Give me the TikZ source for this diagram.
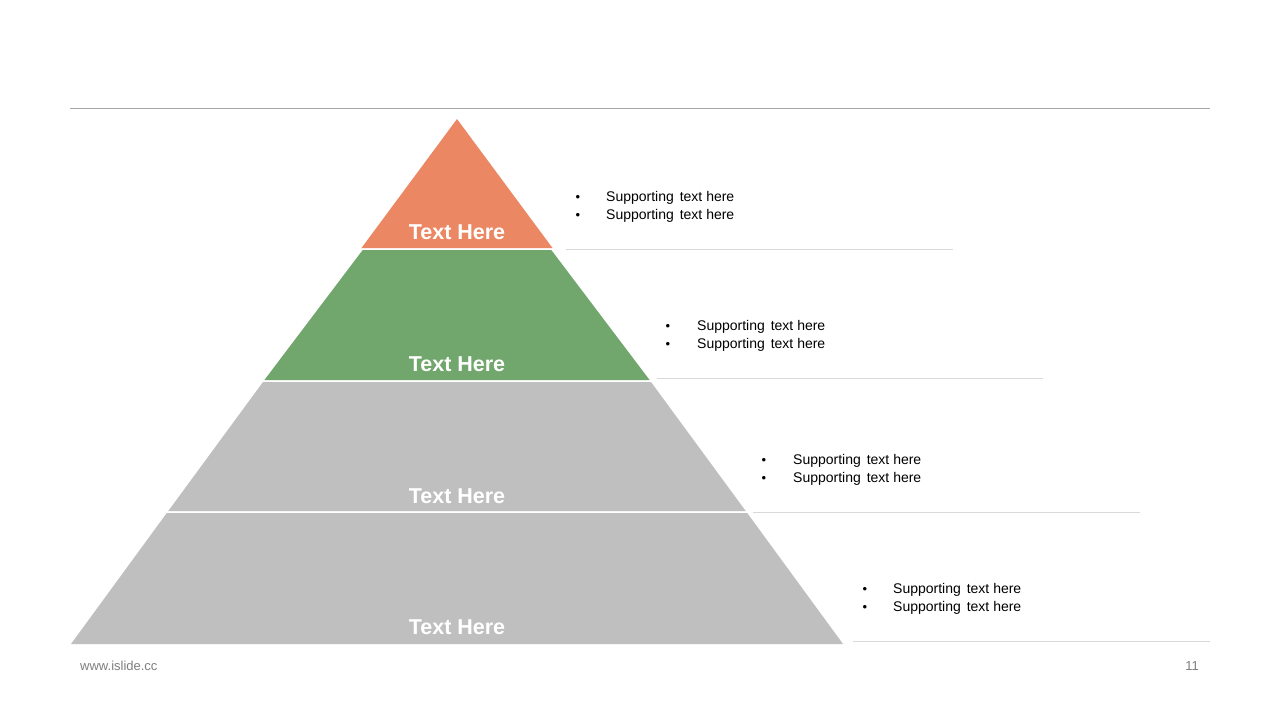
\documentclass[tikz,border=0pt]{standalone}
\usepackage{fontspec}
\setmainfont{Liberation Sans}
\definecolor{orangeT}{HTML}{EB8762}
\definecolor{greenT}{HTML}{71A66D}
\definecolor{grayT}{HTML}{BFBFBF}
\definecolor{ruleD}{HTML}{A6A6A6}
\definecolor{ruleL}{HTML}{D9D9D9}
\definecolor{footT}{HTML}{7F7F7F}
\begin{document}
\begin{tikzpicture}[x=1pt,y=-1pt,
  tierlabel/.style={text=white,font=\fontsize{21.5}{24}\selectfont\bfseries,anchor=base,inner sep=0pt},
  suptext/.style={font=\fontsize{14}{18}\selectfont,anchor=base west,inner sep=0pt},
  bul/.style={font=\fontsize{13}{15}\selectfont,anchor=base,inner sep=0pt},
  sideline/.style={draw=ruleL,line width=0.9pt},
  foot/.style={text=footT,font=\fontsize{13}{15}\selectfont,anchor=base,inner sep=0pt}]
\useasboundingbox (0,0) rectangle (1280,720);
\fill[white] (0,0) rectangle (1280,720);
% top rule
\draw[draw=ruleD,line width=0.9pt] (70,108) -- (1210,108);
% tiers
\fill[orangeT] (457,119) -- (552.5,248) -- (361.5,248) -- cycle;
\fill[greenT] (362.7,250) -- (551.3,250) -- (649.6,380) -- (264.4,380) -- cycle;
\fill[grayT] (263,382) -- (651,382) -- (745.7,511) -- (168.3,511) -- cycle;
\fill[grayT] (166.8,513) -- (747.2,513) -- (843,644) -- (71,644) -- cycle;
% side lines
\draw[sideline] (566,249) -- (953,249);
\draw[sideline] (657,378) -- (1043,378);
\draw[sideline] (753,512) -- (1140,512);
\draw[sideline] (853,641) -- (1210,641);
% tier labels
\node[tierlabel] (t1) at (457,239) {Text Here};
\node[tierlabel] (t2) at (457,371) {Text Here};
\node[tierlabel] (t3) at (457,503) {Text Here};
\node[tierlabel] (t4) at (457,634) {Text Here};
% supporting text
\foreach \bx/\tx/\ya/\yb/\n in {578/606/201/219/a, 668/697/330/348/b, 764/793/464/482/c, 865/893/593/611/d}{
  \node[bul] (b\n1) at (\bx,\ya) {•};
  \node[suptext] (s\n1) at (\tx,\ya) {Supporting\hspace{2pt} text here};
  \node[bul] (b\n2) at (\bx,\yb) {•};
  \node[suptext] (s\n2) at (\tx,\yb) {Supporting\hspace{2pt} text here};
}
% footer
\node[foot,anchor=base west] (url) at (80,670) {www.islide.cc};
\node[foot] (pg) at (1192,670) {11};
\end{tikzpicture}
\end{document}
